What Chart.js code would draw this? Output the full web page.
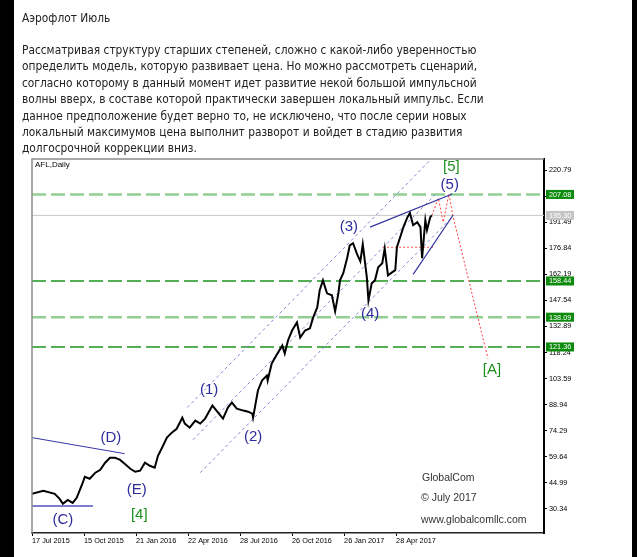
<!DOCTYPE html>
<html><head><meta charset="utf-8">
<script src="https://cdn.jsdelivr.net/npm/chart.js@4/dist/chart.umd.min.js"></script>
<style>
html,body{margin:0;padding:0;width:637px;height:557px;overflow:hidden;background:#000;}
#page{position:absolute;left:14px;top:0;width:618px;height:557px;background:#fff;}
#c{position:absolute;left:0;top:0;}
.txt{position:absolute;font-family:Verdana,"DejaVu Sans",sans-serif;font-size:13px;line-height:16.4px;color:#222;white-space:nowrap;transform:scaleX(0.818);transform-origin:0 0;}
.wm{position:absolute;font-family:"Liberation Sans",Arial,sans-serif;font-size:10.5px;line-height:12px;color:#333;white-space:nowrap;}
</style></head>
<body>
<div id="page"></div>
<canvas id="c" width="637" height="557"></canvas>
<div class="txt" style="left:22px;top:10px">Аэрофлот Июль</div>
<div class="txt" style="left:22px;top:42px">Рассматривая структуру старших степеней, сложно с какой-либо уверенностью<br>определить модель, которую развивает цена. Но можно рассмотреть сценарий,<br>согласно которому в данный момент идет развитие некой большой импульсной<br>волны вверх, в составе которой практически завершен локальный импульс. Если<br>данное предположение будет верно то, не исключено, что после серии новых<br>локальный максимумов цена выполнит разворот и войдет в стадию развития<br>долгосрочной коррекции вниз.</div>
<div class="wm" style="left:35px;top:160px;font-size:8px;line-height:10px;color:#000">AFL,Daily</div>
<div class="wm" style="left:422px;top:471px">GlobalCom</div>
<div class="wm" style="left:421px;top:491px">© July 2017</div>
<div class="wm" style="left:421px;top:513px">www.globalcomllc.com</div>
<script>
// ---- data ----
const xTickIdx = [0,64,128,192,256,320,384,448];
const xTickLabels = ['17 Jul 2015','15 Oct 2015','21 Jan 2016','22 Apr 2016','28 Jul 2016','26 Oct 2016','26 Jan 2017','28 Apr 2017'];
const yTicks = [30.34,44.99,59.64,74.29,88.94,103.59,118.24,132.89,147.54,162.19,176.84,191.49,206.14,220.79];

const priceIdx = [0,14,28,34,38,44,50,55,62,65,71,78,84,90,96,102,108,114,121,127,133,139,145,151,155,160,166,172,178,185,188,194,201,207,213,222,228,235,241,246,252,260,266,271,272,278,283,289,290,295,302,308,311,315,320,326,330,336,342,346,351,354,358,363,369,373,377,379,383,388,391,395,400,404,407,412,414,418,422,426,431,434,438,443,447,449,453,457,462,465,469,474,478,480,484,486,490,492];
const priceVal = [38.8,40.5,38.8,36.0,33.2,35.4,33.7,36.6,44.5,48.4,47.3,50.7,52.3,56.3,59.1,59.1,58.0,55.7,52.9,51.2,51.8,56.3,54.6,53.5,60.2,64.7,70.4,73.2,75.4,81.6,78.3,76.0,80.0,78.3,81.1,88.4,85.0,81.1,87.3,90.1,86.7,85.6,85.0,83.9,81.6,96.9,102.5,105.3,102.5,112.1,117.7,122.2,117.7,125.0,130.6,135.1,126.7,130.6,131.8,138.0,143.6,153.2,158.8,151.5,150.4,141.4,151.5,158.8,162.8,171.8,178.5,179.7,173.5,169.5,179.1,160.5,147.5,157.1,158.8,166.1,168.4,176.8,161.6,163.3,164.5,177.4,183.0,188.7,194.3,196.6,189.8,191.5,188.7,171.2,192.6,187.0,194.3,195.3];

const lastPrice = 195.30;
const levelsLight = [207.08,138.09];
const levelsDark = [158.44,121.36];

const chanUpper = [[191,87.3],[490,226.4]];
const chanMiddle = [[198,69.2],[498,207.8]];
const chanLower = [[207,50.7],[517,194.3]];
const lineD = [[0,70.4],[114,61.4]];
const lineC = [[0,32.0],[75,32.0]];
const wedgeUpper = [[416,188.7],[517,207.3]];
const wedgeLower = [[469,162.2],[518,195.4]];
const redFlat = [[432,177.4],[496,177.4]];
const redPathIdx = [492,500,506,513,518,561];
const redPathVal = [195.3,205.0,191.5,207.3,194.9,114.9];

const waveText = ['(C)','(D)','(E)','[4]','(1)','(2)','(3)','(4)','(5)','[5]','[A]'];
const waveIdx = [38,97,129,132,218,272,390,416,514,516,566];
const waveVal = [24.2,70.4,41.0,27.0,97.4,70.9,188.7,139.7,212.3,222.5,108.7];

// ---- build ----
const X_MIN = 0, X_MAX = 630, Y_MIN = 16.8, Y_MAX = 227.0;
const pts = arr => arr.map(p => ({x:p[0], y:p[1]}));
const hline = v => [{x:X_MIN,y:v},{x:X_MAX,y:v}];
const seg = (data, color, width, dash) => ({data, borderColor:color, borderWidth:width, borderDash:dash||[], pointRadius:0, fill:false, tension:0});

const datasets = [
  seg(priceIdx.map((x,i)=>({x, y:priceVal[i]})), '#000', 2),
  seg(pts(wedgeUpper), '#33339f', 1.2),
  seg(pts(wedgeLower), '#33339f', 1.2),
  seg(pts(lineD), '#3535a5', 1),
  seg(pts(lineC), '#7d7dcc', 2),
  seg(redPathIdx.map((x,i)=>({x, y:redPathVal[i]})), '#ff3b3b', 1, [2,2]),
  seg(pts(redFlat), '#ff5050', 1, [2,2]),
  seg(pts(chanUpper), '#8686d6', 1, [3,3]),
  seg(pts(chanMiddle), '#8686d6', 1, [3,3]),
  seg(pts(chanLower), '#8686d6', 1, [3,3]),
  seg(hline(lastPrice), '#c8c8c8', 1),
  ...levelsDark.map(v => seg(hline(v), '#1e961e', 1.4, [14,5])),
  ...levelsLight.map(v => seg(hline(v), '#93cf93', 2.4, [14,5])),
];

const overlay = {
  id:'overlay',
  afterDatasetsDraw(chart){
    const {ctx, scales:{x,y}} = chart;
    ctx.save();
    ctx.font = '15px "Liberation Sans", Arial, sans-serif';
    ctx.textAlign = 'center'; ctx.textBaseline = 'middle';
    waveText.forEach((t,i)=>{
      ctx.fillStyle = t.startsWith('[') ? '#1f8f1f' : '#2c2c9c';
      ctx.fillText(t, x.getPixelForValue(waveIdx[i]), y.getPixelForValue(waveVal[i]));
    });
    ctx.restore();
  },
  afterDraw(chart){
    const {ctx, chartArea:a, scales:{y}} = chart;
    ctx.save();
    ctx.strokeStyle = '#8c8c8c'; ctx.lineWidth = 1.5;
    ctx.beginPath(); ctx.moveTo(a.left, a.bottom); ctx.lineTo(a.left, a.top); ctx.lineTo(a.right, a.top); ctx.stroke();
    ctx.font = '7.3px "Liberation Sans", Arial, sans-serif';
    ctx.textAlign = 'left'; ctx.textBaseline = 'middle';
    const boxes = [[lastPrice,'#c4c4c4'], ...levelsLight.map(v=>[v,'#0b8a0b']), ...levelsDark.map(v=>[v,'#0b8a0b'])];
    boxes.forEach(([v,c])=>{
      const py = y.getPixelForValue(v);
      ctx.fillStyle = c; ctx.fillRect(a.right+2, py-4.5, 28, 9);
      ctx.fillStyle = '#fff'; ctx.fillText(v.toFixed(2), a.right+5, py+0.5);
    });
    ctx.restore();
  }
};

new Chart(document.getElementById('c'), {
  type:'line',
  data:{datasets},
  options:{
    responsive:false, animation:false,
    layout:{padding:{left:32, top:159, right:0, bottom:0}},
    plugins:{legend:{display:false}, tooltip:{enabled:false}},
    scales:{
      x:{type:'linear', min:X_MIN, max:X_MAX, position:'bottom',
        afterBuildTicks: s => { s.ticks = xTickIdx.map(v=>({value:v})); },
        afterFit: s => { s.height = 24; },
        ticks:{align:'start', padding:1, maxRotation:0, autoSkip:false, color:'#000',
          font:{family:'"Liberation Sans", Arial, sans-serif', size:7.3},
          callback:(v,i)=>xTickLabels[i]},
        grid:{drawOnChartArea:false, drawTicks:true, tickLength:3, color:'#000'},
        border:{display:true, color:'#222', width:1.5}},
      y:{type:'linear', min:Y_MIN, max:Y_MAX, position:'right',
        afterBuildTicks: s => { s.ticks = yTicks.map(v=>({value:v})); },
        afterFit: s => { s.width = 93; },
        ticks:{padding:2, color:'#000', autoSkip:false,
          font:{family:'"Liberation Sans", Arial, sans-serif', size:7.3},
          callback:v=>Number(v).toFixed(2)},
        grid:{drawOnChartArea:false, drawTicks:true, tickLength:3, color:'#000'},
        border:{display:true, color:'#000', width:2}}
    }
  },
  plugins:[overlay]
});
</script>
</body></html>
